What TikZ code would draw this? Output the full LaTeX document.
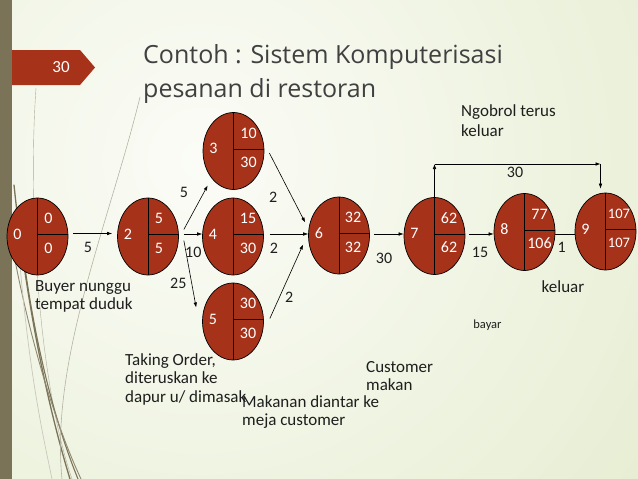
\documentclass[tikz,border=0pt]{standalone}
\usepackage{fontspec}
\setmainfont{Carlito}
\newfontfamily\titlefont{Open Sans}
\usetikzlibrary{shapes.geometric,arrows.meta}
\definecolor{evred}{RGB}{166,50,26}
\definecolor{barc}{RGB}{122,115,88}
\definecolor{bgout}{RGB}{221,231,193}
\definecolor{bgin}{RGB}{251,252,247}
\definecolor{titlec}{RGB}{64,64,64}
\definecolor{labc}{RGB}{30,30,30}
\newcommand\smallnum{\fontsize{14.5}{14.5}\selectfont}
\newcommand\evt[7]{%
  \node[ev] (#1) at (#2,#3) {};
  \draw[divl] (#1.north) -- (#1.south);
  \draw[divl] ([yshift=2pt]#1.center) -- ([yshift=2pt]#1.east);
  \node[num] (#1-l) at ([xshift=-20pt,yshift=2.5pt]#1.center) {#4};
  \node[num] (#1-t) at ([xshift=#7,yshift=18pt]#1.center) {#5};
  \node[num] (#1-b) at ([xshift=#7,yshift=-11.5pt]#1.center) {#6};
}
\tikzset{
  ev/.style={ellipse, draw=black, line width=0.7pt, fill=evred, minimum width=61pt, minimum height=77pt, inner sep=0pt},
  divl/.style={line width=0.7pt, black},
  num/.style={text=white, font=\fontsize{16}{16}\selectfont, inner sep=0pt},
  arr/.style={-{Latex[length=5pt,width=3.6pt]}, line width=0.6pt, black},
  elab/.style={font=\fontsize{16}{16}\selectfont, inner sep=0pt, text=labc},
  lab/.style={font=\fontsize{17}{18.5}\selectfont, align=left, anchor=north west, inner sep=0pt, text=labc},
  deco/.style={line cap=round}
}
\begin{document}
\begin{tikzpicture}[x=1pt,y=-1pt]
\useasboundingbox (0,0) rectangle (638,479);
% background
\begin{scope}
  \clip (0,0) rectangle (638,479);
  \shade[inner color=bgin, outer color=bgout] (-620,-660) rectangle (1020,980);
\end{scope}
\fill[barc] (0,0) rectangle (12,479);
% decorative strands
\draw[deco, barc!60, line width=0.4pt] (36,88) .. controls (28,200) and (38,380) .. (72,479);
\draw[deco, barc, line width=1.3pt] (14,185) .. controls (26,300) and (46,400) .. (70,479);
\draw[deco, barc, line width=1.1pt] (18,210) .. controls (30,330) and (54,420) .. (78,479);
\draw[deco, barc!85, line width=0.9pt] (13,250) .. controls (32,350) and (58,430) .. (81,479);
\draw[deco, barc!40, line width=0.7pt] (20,265) .. controls (30,380) and (44,440) .. (52,479);
\draw[deco, barc!55, line width=0.6pt] (140,97) .. controls (110,220) and (50,360) .. (62,479);
% slide number tab
\fill[evred] (12,50) -- (80,50) -- (95,67.5) -- (80,85) -- (12,85) -- cycle;
\node[text=white, font=\fontsize{17}{17}\selectfont, inner sep=0pt] (pg) at (61,67.5) {30};
% title
\node[anchor=base west, inner sep=0pt, text=titlec, font=\titlefont\fontsize{25}{25}\selectfont] (t1) at (143,63.5) {Contoh : Sistem Komputerisasi};
\node[anchor=base west, inner sep=0pt, text=titlec, font=\titlefont\fontsize{25}{25}\selectfont] (t2) at (143,97) {pesanan di restoran};
% events
\evt{n0}{37.5}{236.5}{0}{0}{0}{11pt}
\evt{n2}{148}{236.5}{2}{5}{5}{11pt}
\evt{n3}{233.5}{151}{3}{10}{30}{15pt}
\evt{n4}{233}{236.5}{4}{15}{30}{15pt}
\evt{n5}{233}{321.5}{5}{30}{30}{15pt}
\evt{n6}{339}{235.5}{6}{32}{32}{14pt}
\evt{n7}{434.5}{236}{7}{62}{62}{14.5pt}
\evt{n8}{524.5}{232}{8}{77}{106}{15pt}
\evt{n9}{605.5}{231.5}{9}{\smallnum 107}{\smallnum 107}{13.5pt}
% activities
\draw[arr] ([xshift=5pt,yshift=3pt]n0.east) -- ([xshift=-5pt,yshift=3pt]n2.west);
\draw[arr] ([xshift=5pt,yshift=7pt]n2.east) -- ([xshift=-4pt,yshift=-7pt]n3.south west);
\draw[arr] ([xshift=5pt,yshift=2.5pt]n2.east) -- ([yshift=2.5pt]n4.west);
\draw[arr] ([xshift=5pt,yshift=-4pt]n2.east) -- ([xshift=-6pt,yshift=14pt]n5.west);
\draw[arr] ([xshift=5pt,yshift=-2pt]n3.east) -- ([xshift=-3pt,yshift=13pt]n6.west);
\draw[arr] ([xshift=6pt,yshift=2.5pt]n4.east) -- ([yshift=1.5pt]n6.west);
\draw[arr] ([xshift=6pt,yshift=3pt]n5.east) -- ([xshift=-5pt,yshift=-9pt]n6.west);
\draw[arr] ([xshift=4pt,yshift=1.5pt]n6.east) -- ([yshift=2pt]n7.west);
\draw[arr] ([xshift=4pt,yshift=2pt]n7.east) -- ([yshift=-2pt]n8.west);
\draw[line width=0.6pt] ([yshift=-2pt]n8.east) -- ([yshift=-2.5pt]n9.west);
\coordinate (c1) at (434.5,164);
\coordinate (c2) at (600.5,164);
\draw[arr] (n7.north) -- (c1);
\draw[arr] (c1) -- (c2);
\draw[arr, shorten >=4pt] (c2) -- (c2 |- n9.north);
% activity durations
\node[elab] (d02) at (88,247.7) {5};
\node[elab] (d23) at (184,192.7) {5};
\node[elab] (d24) at (193.3,252.7) {10};
\node[elab] (d25) at (178.3,283.3) {25};
\node[elab] (d36) at (273.3,197.3) {2};
\node[elab] (d46) at (274,248.3) {2};
\node[elab] (d56) at (289.3,297.3) {2};
\node[elab] (d67) at (384,258.3) {30};
\node[elab] (d78) at (480,252.7) {15};
\node[elab] (d89) at (561.7,247.7) {1};
\node[elab] (d79) at (515,172.7) {30};
% descriptions
\node[lab] (buyer) at (35,280) {Buyer nunggu\\tempat duduk};
\node[lab] (order) at (125,353) {Taking Order,\\diteruskan ke\\dapur u/ dimasak};
\node[lab] (antar) at (242,395) {Makanan diantar ke\\meja customer};
\node[lab] (makan) at (366,361) {Customer\\makan};
\node[lab, font=\fontsize{17}{20}\selectfont] (ngobrol) at (461,104) {Ngobrol terus\\keluar};
\node[elab, font=\fontsize{17}{17}\selectfont] (keluar) at (563,287) {keluar};
\node[elab, font=\fontsize{12.5}{12.5}\selectfont] (bayar) at (487.5,325) {bayar};
\end{tikzpicture}
\end{document}
